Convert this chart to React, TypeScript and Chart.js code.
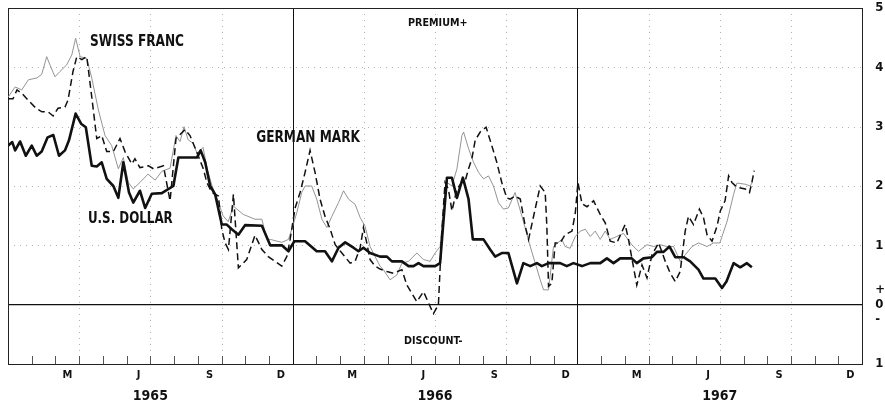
import React, { useEffect, useRef } from 'react';
import { Chart, registerables } from 'chart.js';

Chart.register(...registerables);

const FONT = "'Liberation Sans Narrow', 'DejaVu Sans Condensed', 'Roboto Condensed', sans-serif";

// x axis is measured in months since 1 Jan 1965
const monthLabelPositions = [2.5, 5.5, 8.5, 11.5, 14.5, 17.5, 20.5, 23.5, 26.5, 29.5, 32.5, 35.5];
const monthLabels = ['M', 'J', 'S', 'D', 'M', 'J', 'S', 'D', 'M', 'J', 'S', 'D'];
const yearLabelPositions = [6, 18, 30];
const yearLabels = ['1965', '1966', '1967'];
const yTickValues = [-1, 0, 1, 2, 3, 4, 5];

const usDollarMonths = [
  0.0, 0.18, 0.3, 0.51, 0.75, 1.0, 1.21, 1.42, 1.67, 1.91, 2.15, 2.4, 2.57, 2.85, 3.08, 3.28, 3.53, 3.74, 3.95, 4.16,
  4.44, 4.65, 4.86, 5.1, 5.28, 5.56, 5.78, 6.06, 6.48, 6.97, 7.18, 7.96, 8.12, 8.31, 8.52, 8.73, 9.01, 9.22, 9.43, 9.71,
  9.99, 10.7, 11.05, 11.54, 11.82, 12.07, 12.52, 13.01, 13.36, 13.65, 13.93, 14.21, 14.56, 14.77, 14.98, 15.26, 15.68,
  15.97, 16.18, 16.6, 16.88, 17.09, 17.3, 17.51, 18.0, 18.21, 18.5, 18.71, 18.92, 19.17, 19.41, 19.59, 20.04, 20.32,
  20.53, 20.81, 21.09, 21.45, 21.72, 22.01, 22.29, 22.5, 22.78, 23.27, 23.55, 23.83, 24.19, 24.54, 24.96, 25.24, 25.52,
  25.8, 26.29, 26.5, 26.78, 27.14, 27.35, 27.63, 27.88, 28.12, 28.47, 28.75, 29.1, 29.31, 29.81, 30.09, 30.28, 30.58,
  30.86, 31.14, 31.35,
];
const usDollarValues = [
  2.68, 2.74, 2.6, 2.75, 2.51, 2.68, 2.51, 2.58, 2.82, 2.86, 2.51, 2.6, 2.77, 3.22, 3.05, 2.99, 2.34, 2.33, 2.4, 2.12,
  2.0, 1.8, 2.4, 1.89, 1.72, 1.92, 1.63, 1.87, 1.88, 2.0, 2.48, 2.48, 2.6, 2.4, 2.0, 1.86, 1.35, 1.35, 1.27, 1.18,
  1.34, 1.33, 1.0, 1.0, 0.9, 1.07, 1.07, 0.9, 0.9, 0.73, 0.96, 1.05, 0.96, 0.9, 0.96, 0.87, 0.81,
  0.81, 0.73, 0.73, 0.65, 0.65, 0.7, 0.65, 0.65, 0.7, 2.14, 2.14, 1.8, 2.14, 1.78, 1.1, 1.1, 0.93,
  0.81, 0.87, 0.87, 0.36, 0.7, 0.65, 0.7, 0.65, 0.7, 0.7, 0.65, 0.7, 0.65, 0.7, 0.7, 0.78, 0.7,
  0.78, 0.78, 0.7, 0.78, 0.8, 0.89, 0.89, 0.98, 0.8, 0.8, 0.73, 0.59, 0.44, 0.44, 0.28, 0.39, 0.7,
  0.63, 0.7, 0.63,
];

const germanMarkMonths = [
  0.0, 0.21, 0.38, 0.59, 0.84, 1.18, 1.43, 1.69, 1.9, 2.11, 2.4, 2.53, 2.74, 2.9, 3.11, 3.32, 3.53, 3.74, 3.95, 4.16,
  4.44, 4.72, 4.93, 5.22, 5.35, 5.56, 5.92, 6.13, 6.55, 6.83, 7.08, 7.46, 7.67, 7.93, 8.23, 8.38, 8.59, 8.87, 9.01,
  9.15, 9.29, 9.5, 9.71, 10.06, 10.41, 10.7, 10.97, 11.54, 11.75, 11.89, 12.1, 12.31, 12.52, 12.73, 12.94, 13.15, 13.36,
  13.58, 13.79, 14.07, 14.42, 14.63, 14.84, 14.98, 15.12, 15.26, 15.47, 15.68, 15.97, 16.24, 16.6, 16.81, 17.02, 17.23,
  17.51, 17.79, 17.93, 18.14, 18.28, 18.42, 18.56, 18.71, 18.92, 19.13, 19.27, 19.41, 19.55, 19.69, 19.9, 20.15, 20.39,
  20.6, 20.81, 21.02, 21.16, 21.37, 21.59, 21.8, 21.94, 22.15, 22.43, 22.64, 22.71, 22.78, 22.92, 23.06, 23.27, 23.48,
  23.77, 23.91, 24.02, 24.19, 24.4, 24.68, 24.96, 25.17, 25.38, 25.66, 26.01, 26.15, 26.29, 26.5, 26.72, 26.93, 27.14,
  27.42, 27.7, 27.91, 28.12, 28.33, 28.54, 28.68, 28.89, 29.14, 29.31, 29.46, 29.67, 29.88, 30.02, 30.22, 30.37, 30.51,
  30.72, 31.07, 31.25, 31.35, 31.45,
];
const germanMarkValues = [
  3.47, 3.47, 3.62, 3.56, 3.45, 3.31, 3.25, 3.25, 3.18, 3.31, 3.33, 3.45, 3.93, 4.18, 4.13, 4.18, 3.5, 2.8, 2.85, 2.58,
  2.58, 2.8, 2.58, 2.37, 2.46, 2.31, 2.34, 2.29, 2.34, 1.75, 2.8, 2.95, 2.85, 2.6, 2.29, 2.06, 1.89, 1.83, 1.27,
  1.04, 0.93, 1.86, 0.62, 0.76, 1.17, 0.93, 0.81, 0.65, 0.81, 1.1, 1.63, 1.89, 2.23, 2.6, 2.23, 1.78, 1.49,
  1.27, 1.01, 0.87, 0.7, 0.73, 0.96, 1.3, 1.04, 0.76, 0.65, 0.6, 0.56, 0.53, 0.59, 0.33, 0.19, 0.05,
  0.22, -0.03, -0.15, 0.0, 1.21, 2.06, 1.95, 1.58, 1.95, 2.06, 2.09, 2.29, 2.46, 2.77, 2.91, 2.99, 2.68,
  2.4, 2.06, 1.8, 1.78, 1.83, 1.78, 1.32, 1.1, 1.49, 2.0, 1.89, 1.32, 0.31, 0.36, 1.04, 1.04, 1.18,
  1.24, 1.55, 2.06, 1.7, 1.65, 1.75, 1.52, 1.38, 1.07, 1.04, 1.35, 1.1, 0.79, 0.33, 0.67, 0.45, 0.84,
  1.04, 0.73, 0.53, 0.39, 0.56, 1.24, 1.49, 1.35, 1.61, 1.47, 1.18, 1.07, 1.32, 1.58, 1.75, 2.17, 2.06,
  1.98, 1.95, 1.89, 2.06, 2.26,
];

const swissFrancMonths = [
  0.01, 0.3, 0.58, 0.86, 1.21, 1.42, 1.63, 1.77, 1.98, 2.19, 2.47, 2.69, 2.85, 3.04, 3.32, 3.53, 3.81, 4.09, 4.37, 4.65,
  4.86, 5.07, 5.28, 5.56, 5.9, 6.2, 6.49, 6.83, 7.08, 7.25, 7.42, 7.59, 7.8, 7.97, 8.22, 8.39, 8.6, 8.85, 9.06, 9.28,
  9.5, 9.92, 10.41, 10.7, 10.91, 11.05, 11.54, 11.82, 11.96, 12.17, 12.38, 12.52, 12.8, 13.01, 13.23, 13.44, 13.65,
  13.93, 14.14, 14.35, 14.63, 14.84, 15.05, 15.26, 15.47, 15.68, 15.82, 16.1, 16.39, 16.6, 16.88, 17.23, 17.51, 17.79,
  18.0, 18.21, 18.35, 18.5, 18.71, 18.92, 19.13, 19.2, 19.41, 19.62, 19.83, 20.04, 20.25, 20.46, 20.67, 20.88, 21.09,
  21.37, 21.66, 22.01, 22.22, 22.43, 22.57, 22.78, 22.99, 23.34, 23.48, 23.69, 23.91, 24.12, 24.33, 24.54, 24.75, 24.96,
  25.17, 25.38, 25.66, 25.94, 26.29, 26.57, 26.93, 27.21, 27.49, 27.77, 28.05, 28.33, 28.54, 28.83, 29.1, 29.46, 29.74,
  30.0, 30.31, 30.58, 30.72, 31.07, 31.28, 31.37,
];
const swissFrancValues = [
  3.5, 3.67, 3.62, 3.79, 3.82, 3.88, 4.18, 4.04, 3.84, 3.93, 4.04, 4.21, 4.49, 4.18, 4.15, 3.82, 3.28, 2.85, 2.68, 2.29,
  2.48, 2.06, 1.95, 2.06, 2.2, 2.1, 2.25, 2.3, 2.85, 2.75, 3.0, 2.78, 2.72, 2.55, 2.65, 2.3, 2.0, 1.75, 1.5, 1.4,
  1.66, 1.52, 1.44, 1.44, 1.1, 1.1, 1.05, 1.1, 1.27, 1.55, 1.89, 2.0, 2.0, 1.78, 1.44, 1.3, 1.49,
  1.72, 1.92, 1.78, 1.69, 1.47, 1.32, 0.98, 0.81, 0.65, 0.59, 0.42, 0.5, 0.7, 0.73, 0.87, 0.76, 0.73,
  0.87, 0.98, 1.55, 2.06, 2.0, 2.29, 2.85, 2.91, 2.63, 2.4, 2.23, 2.12, 2.17, 2.0, 1.72, 1.61, 1.63,
  1.89, 1.49, 0.98, 0.7, 0.42, 0.25, 0.25, 0.98, 1.1, 0.98, 0.95, 1.15, 1.24, 1.27, 1.15, 1.24, 1.1,
  1.24, 1.1, 1.15, 1.2, 1.01, 0.9, 1.01, 0.98, 1.01, 0.98, 0.98, 0.73, 0.84, 0.98, 1.04, 0.98, 1.04,
  1.04, 1.41, 1.86, 2.05, 2.03, 2.0, 2.06,
];

const annotations = [
  { text: 'SWISS FRANC', x: 3.46, y: 4.43, size: 15, squeeze: 0.9 },
  { text: 'GERMAN MARK', x: 10.46, y: 2.8, size: 15, squeeze: 0.9 },
  { text: 'U.S. DOLLAR', x: 3.37, y: 1.44, size: 15, squeeze: 0.88 },
  { text: 'PREMIUM+', x: 16.86, y: 4.74, size: 11, squeeze: 0.97 },
  { text: 'DISCOUNT-', x: 16.69, y: -0.61, size: 11, squeeze: 0.97 },
];

const toPoints = (xs: number[], ys: number[]) => xs.map((x, i) => ({ x, y: ys[i] }));

const framePlugin = {
  id: 'frame',
  beforeDatasetsDraw(chart: any) {
    const { ctx, chartArea: a, scales } = chart;
    const xs = scales.x;
    const ys = scales.y;
    const line = (x1: number, y1: number, x2: number, y2: number) => {
      ctx.beginPath();
      ctx.moveTo(x1, y1);
      ctx.lineTo(x2, y2);
      ctx.stroke();
    };
    ctx.save();
    ctx.strokeStyle = 'rgba(0,0,0,0.3)';
    ctx.lineWidth = 1;
    ctx.setLineDash([1, 5]);
    for (let v = 1; v <= 4; v++) {
      const py = Math.round(ys.getPixelForValue(v)) + 0.5;
      line(a.left, py, a.right, py);
    }
    for (let m = 3; m < 36; m += 3) {
      if (m % 12 === 0) continue;
      const px = Math.round(xs.getPixelForValue(m)) + 0.5;
      line(px, a.top, px, a.bottom);
    }
    ctx.setLineDash([]);
    ctx.strokeStyle = '#555';
    for (let m = 1; m < 36; m++) {
      const px = Math.round(xs.getPixelForValue(m)) + 0.5;
      line(px, a.bottom, px, a.bottom - 8);
    }
    ctx.strokeStyle = '#111';
    ctx.lineWidth = 1;
    [12, 24].forEach((m) => {
      const px = Math.round(xs.getPixelForValue(m)) + 0.5;
      line(px, a.top, px, a.bottom);
    });
    ctx.lineWidth = 1.3;
    const zy = ys.getPixelForValue(0);
    line(a.left, zy, a.right, zy);
    ctx.lineWidth = 1;
    ctx.strokeStyle = '#222';
    ctx.strokeRect(Math.round(a.left) + 0.5, Math.round(a.top) + 0.5, Math.round(a.right - a.left), Math.round(a.bottom - a.top));
    ctx.restore();
  },
  afterDatasetsDraw(chart: any) {
    const { ctx, scales } = chart;
    ctx.save();
    ctx.fillStyle = '#111';
    ctx.textBaseline = 'middle';
    ctx.textAlign = 'left';
    annotations.forEach((t) => {
      ctx.save();
      ctx.font = `bold ${t.size}px ${FONT}`;
      ctx.translate(scales.x.getPixelForValue(t.x), scales.y.getPixelForValue(t.y));
      ctx.scale(t.squeeze, 1);
      ctx.fillText(t.text, 0, 0);
      ctx.restore();
    });
    ctx.restore();
  },
};

export default function App() {
  const ref = useRef<HTMLCanvasElement>(null);
  useEffect(() => {
    if (!ref.current) return;
    const chart = new Chart(ref.current, {
      type: 'line',
      data: {
        datasets: [
          {
            label: 'U.S. Dollar',
            data: toPoints(usDollarMonths, usDollarValues),
            borderColor: '#111',
            borderWidth: 2.6,
            pointRadius: 0,
            tension: 0,
            borderJoinStyle: 'round',
          },
          {
            label: 'German Mark',
            data: toPoints(germanMarkMonths, germanMarkValues),
            borderColor: '#111',
            borderWidth: 1.5,
            borderDash: [7, 4],
            pointRadius: 0,
            tension: 0,
          },
          {
            label: 'Swiss Franc',
            data: toPoints(swissFrancMonths, swissFrancValues),
            borderColor: '#888',
            borderWidth: 0.9,
            pointRadius: 0,
            tension: 0,
          },
        ],
      },
      options: {
        responsive: false,
        animation: false,
        parsing: false,
        layout: { padding: { left: 8, top: 8, right: 0, bottom: -4 } },
        plugins: { legend: { display: false }, tooltip: { enabled: false } },
        scales: {
          x: {
            type: 'linear',
            min: 0,
            max: 36,
            position: 'bottom',
            afterBuildTicks: (axis: any) => {
              axis.ticks = monthLabelPositions.map((v) => ({ value: v }));
            },
            ticks: {
              autoSkip: false,
              maxRotation: 0,
              padding: 5,
              color: '#111',
              font: { family: FONT, size: 11, weight: 'bold' },
              callback: (_v: any, i: number) => monthLabels[i],
            },
            grid: { display: false, drawTicks: false },
            border: { display: false },
          },
          x2: {
            type: 'linear',
            min: 0,
            max: 36,
            position: 'bottom',
            afterBuildTicks: (axis: any) => {
              axis.ticks = yearLabelPositions.map((v) => ({ value: v }));
            },
            ticks: {
              autoSkip: false,
              maxRotation: 0,
              padding: 1,
              color: '#111',
              font: { family: FONT, size: 14, weight: 'bold' },
              callback: (_v: any, i: number) => yearLabels[i],
            },
            grid: { display: false, drawTicks: false },
            border: { display: false },
          },
          y: {
            type: 'linear',
            position: 'right',
            min: -1,
            max: 5,
            afterBuildTicks: (axis: any) => {
              axis.ticks = yTickValues.map((v) => ({ value: v }));
            },
            ticks: {
              padding: 0,
              color: '#111',
              font: { family: FONT, size: 13, weight: 'bold', lineHeight: 1.15 },
              callback: (v: any) => (v === 0 ? ['+', '0', '-'] : String(Math.abs(v))),
            },
            grid: { display: true, drawOnChartArea: false, drawTicks: true, tickLength: 13, color: 'rgba(0,0,0,0)' },
            border: { display: false },
          },
        },
      },
      plugins: [framePlugin],
    } as any);
    return () => chart.destroy();
  }, []);
  return (
    <div style={{ position: 'fixed', left: 0, top: 0, width: 885, height: 402, background: '#fff' }}>
      <canvas ref={ref} width={885} height={402} />
    </div>
  );
}
